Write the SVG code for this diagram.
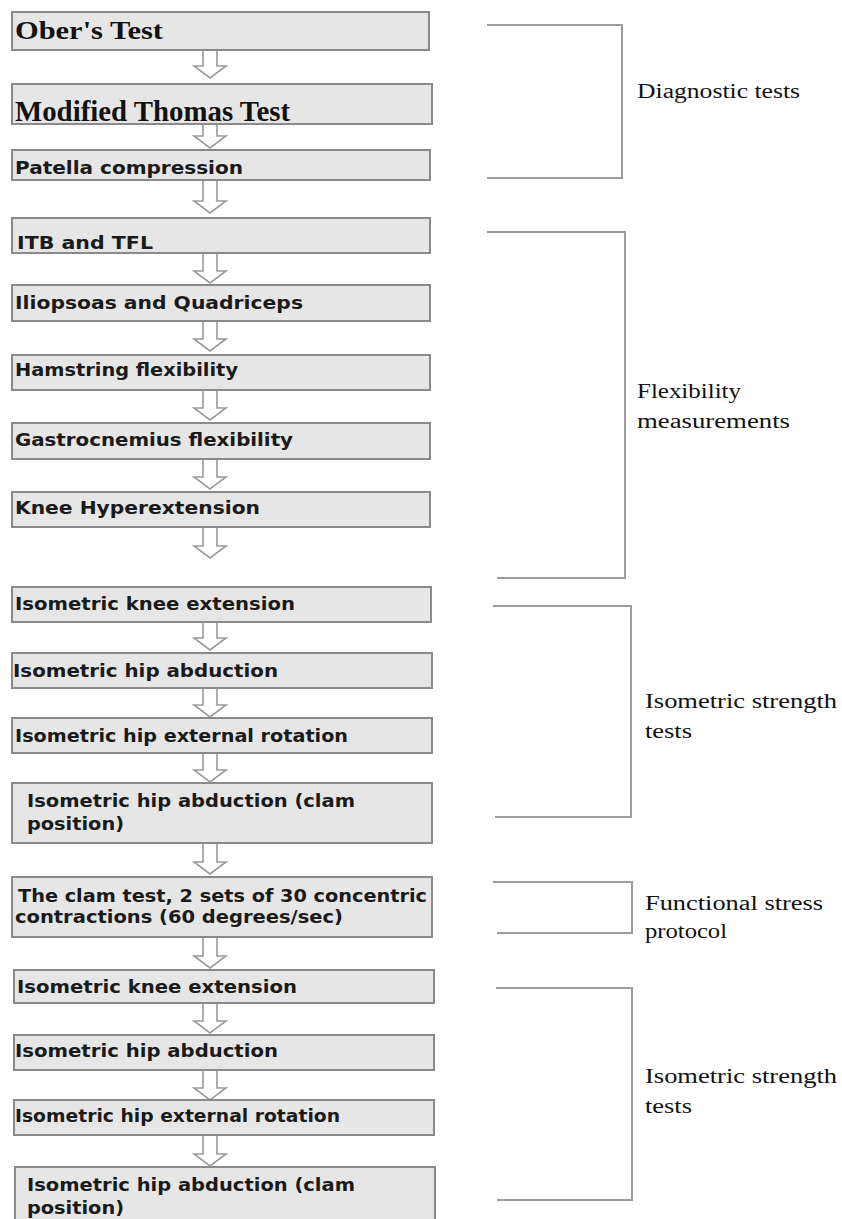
<svg xmlns="http://www.w3.org/2000/svg" width="842" height="1219" viewBox="0 0 842 1219">
  <style>
    .box { fill: #e6e6e6; stroke: #8a8a8a; stroke-width: 2; }
    .t { font-family: "DejaVu Sans", "Liberation Sans", sans-serif; font-weight: bold; font-size: 17px; fill: #1a1a1a; }
    .ts { font-family: "Liberation Serif", "DejaVu Serif", serif; font-weight: bold; fill: #111; }
    .arrow { fill: #ffffff; stroke: #9a9a9a; stroke-width: 1.6; stroke-linejoin: miter; }
    .brk { fill: none; stroke: #9c9c9c; stroke-width: 2; }
    .lbl { font-family: "Liberation Serif", "DejaVu Serif", serif; font-size: 20px; fill: #111; }
  </style>
  <rect width="842" height="1219" fill="#ffffff"/>

  <!-- flow arrows -->
  <g id="connectors">
    <path class="arrow" d="M203,50 L203,66 L194,66 L210,78 L226,66 L217,66 L217,50"/>
    <path class="arrow" d="M203,124 L203,136 L194,136 L210,148 L226,136 L217,136 L217,124"/>
    <path class="arrow" d="M203,180 L203,201 L194,201 L210,213 L226,201 L217,201 L217,180"/>
    <path class="arrow" d="M203,253 L203,271 L194,271 L210,283 L226,271 L217,271 L217,253"/>
    <path class="arrow" d="M203,321 L203,339 L194,339 L210,351 L226,339 L217,339 L217,321"/>
    <path class="arrow" d="M203,390 L203,408 L194,408 L210,420 L226,408 L217,408 L217,390"/>
    <path class="arrow" d="M203,459 L203,477 L194,477 L210,489 L226,477 L217,477 L217,459"/>
    <path class="arrow" d="M203,527 L203,546 L194,546 L210,558 L226,546 L217,546 L217,527"/>
    <path class="arrow" d="M203,622 L203,638 L194,638 L210,650 L226,638 L217,638 L217,622"/>
    <path class="arrow" d="M203,688 L203,705 L194,705 L210,717 L226,705 L217,705 L217,688"/>
    <path class="arrow" d="M203,753 L203,770 L194,770 L210,782 L226,770 L217,770 L217,753"/>
    <path class="arrow" d="M203,843 L203,862 L194,862 L210,874 L226,862 L217,862 L217,843"/>
    <path class="arrow" d="M203,937 L203,956 L194,956 L210,968 L226,956 L217,956 L217,937"/>
    <path class="arrow" d="M203,1003 L203,1021 L194,1021 L210,1033 L226,1021 L217,1021 L217,1003"/>
    <path class="arrow" d="M203,1070 L203,1088 L194,1088 L210,1100 L226,1088 L217,1088 L217,1070"/>
    <path class="arrow" d="M203,1135 L203,1154 L194,1154 L210,1166 L226,1154 L217,1154 L217,1135"/>
  </g>

  <!-- step boxes -->
  <g id="n-ober">
    <rect class="box" x="12" y="12" width="417" height="38"/>
    <text class="ts" x="15" y="39" font-size="25" textLength="148" lengthAdjust="spacingAndGlyphs">Ober's Test</text>
  </g>
  <g id="n-thomas">
    <rect class="box" x="12" y="84" width="420" height="40"/>
    <text class="ts" x="15" y="121" font-size="29" textLength="275" lengthAdjust="spacingAndGlyphs">Modified Thomas Test</text>
  </g>
  <g id="n-patella">
    <rect class="box" x="12" y="150" width="418" height="30"/>
    <text class="t" x="15" y="174" textLength="228" lengthAdjust="spacingAndGlyphs">Patella compression</text>
  </g>
  <g id="n-itb">
    <rect class="box" x="12" y="218" width="418" height="35"/>
    <text class="t" x="17" y="249" textLength="136" lengthAdjust="spacingAndGlyphs">ITB and TFL</text>
  </g>
  <g id="n-iliopsoas">
    <rect class="box" x="12" y="285" width="418" height="36"/>
    <text class="t" x="15" y="309" textLength="288" lengthAdjust="spacingAndGlyphs">Iliopsoas and Quadriceps</text>
  </g>
  <g id="n-hamstring">
    <rect class="box" x="12" y="355" width="418" height="35"/>
    <text class="t" x="15" y="376" textLength="223" lengthAdjust="spacingAndGlyphs">Hamstring flexibility</text>
  </g>
  <g id="n-gastroc">
    <rect class="box" x="12" y="423" width="418" height="36"/>
    <text class="t" x="15" y="446" textLength="278" lengthAdjust="spacingAndGlyphs">Gastrocnemius flexibility</text>
  </g>
  <g id="n-knee-hyper">
    <rect class="box" x="12" y="492" width="418" height="35"/>
    <text class="t" x="15" y="514" textLength="245" lengthAdjust="spacingAndGlyphs">Knee Hyperextension</text>
  </g>
  <g id="n-iso-knee-1">
    <rect class="box" x="12" y="587" width="419" height="35"/>
    <text class="t" x="15" y="610" textLength="280" lengthAdjust="spacingAndGlyphs">Isometric knee extension</text>
  </g>
  <g id="n-iso-abd-1">
    <rect class="box" x="12" y="653" width="420" height="35"/>
    <text class="t" x="13" y="677" textLength="265" lengthAdjust="spacingAndGlyphs">Isometric hip abduction</text>
  </g>
  <g id="n-iso-er-1">
    <rect class="box" x="12" y="718" width="420" height="35"/>
    <text class="t" x="15" y="742" textLength="333" lengthAdjust="spacingAndGlyphs">Isometric hip external rotation</text>
  </g>
  <g id="n-iso-clam-1">
    <rect class="box" x="12" y="783" width="420" height="60"/>
    <text class="t" x="27" y="807" textLength="328" lengthAdjust="spacingAndGlyphs">Isometric hip abduction (clam</text>
    <text class="t" x="27" y="830" textLength="97" lengthAdjust="spacingAndGlyphs">position)</text>
  </g>
  <g id="n-clam-test">
    <rect class="box" x="12" y="877" width="420" height="60"/>
    <text class="t" x="18" y="902" textLength="409" lengthAdjust="spacingAndGlyphs">The clam test, 2 sets of 30 concentric</text>
    <text class="t" x="15" y="923" textLength="328" lengthAdjust="spacingAndGlyphs">contractions (60 degrees/sec)</text>
  </g>
  <g id="n-iso-knee-2">
    <rect class="box" x="14" y="970" width="420" height="33"/>
    <text class="t" x="17" y="993" textLength="280" lengthAdjust="spacingAndGlyphs">Isometric knee extension</text>
  </g>
  <g id="n-iso-abd-2">
    <rect class="box" x="14" y="1035" width="420" height="35"/>
    <text class="t" x="15" y="1057" textLength="263" lengthAdjust="spacingAndGlyphs">Isometric hip abduction</text>
  </g>
  <g id="n-iso-er-2">
    <rect class="box" x="14" y="1100" width="420" height="35"/>
    <text class="t" x="15" y="1122" textLength="325" lengthAdjust="spacingAndGlyphs">Isometric hip external rotation</text>
  </g>
  <g id="n-iso-clam-2">
    <rect class="box" x="15" y="1167" width="420" height="60"/>
    <text class="t" x="27" y="1191" textLength="328" lengthAdjust="spacingAndGlyphs">Isometric hip abduction (clam</text>
    <text class="t" x="27" y="1214" textLength="97" lengthAdjust="spacingAndGlyphs">position)</text>
  </g>

  <!-- phase brackets and their captions -->
  <g id="phase-diagnostic">
    <path class="brk" d="M487,25 L622,25 L622,178 L487,178"/>
    <text class="lbl" x="637" y="98" textLength="163" lengthAdjust="spacingAndGlyphs">Diagnostic tests</text>
  </g>
  <g id="phase-flexibility">
    <path class="brk" d="M487,232 L625,232 L625,578 L497,578"/>
    <text class="lbl" x="637" y="398" textLength="104" lengthAdjust="spacingAndGlyphs">Flexibility</text>
    <text class="lbl" x="637" y="428" textLength="153" lengthAdjust="spacingAndGlyphs">measurements</text>
  </g>
  <g id="phase-isometric-1">
    <path class="brk" d="M493,606 L631,606 L631,817 L495,817"/>
    <text class="lbl" x="645" y="708" textLength="192" lengthAdjust="spacingAndGlyphs">Isometric strength</text>
    <text class="lbl" x="645" y="738" textLength="47" lengthAdjust="spacingAndGlyphs">tests</text>
  </g>
  <g id="phase-functional">
    <path class="brk" d="M493,882 L632,882 L632,933 L497,933"/>
    <text class="lbl" x="645" y="910" textLength="178" lengthAdjust="spacingAndGlyphs">Functional stress</text>
    <text class="lbl" x="645" y="938" textLength="82" lengthAdjust="spacingAndGlyphs">protocol</text>
  </g>
  <g id="phase-isometric-2">
    <path class="brk" d="M496,988 L632,988 L632,1200 L497,1200"/>
    <text class="lbl" x="645" y="1083" textLength="192" lengthAdjust="spacingAndGlyphs">Isometric strength</text>
    <text class="lbl" x="645" y="1113" textLength="47" lengthAdjust="spacingAndGlyphs">tests</text>
  </g>
</svg>
